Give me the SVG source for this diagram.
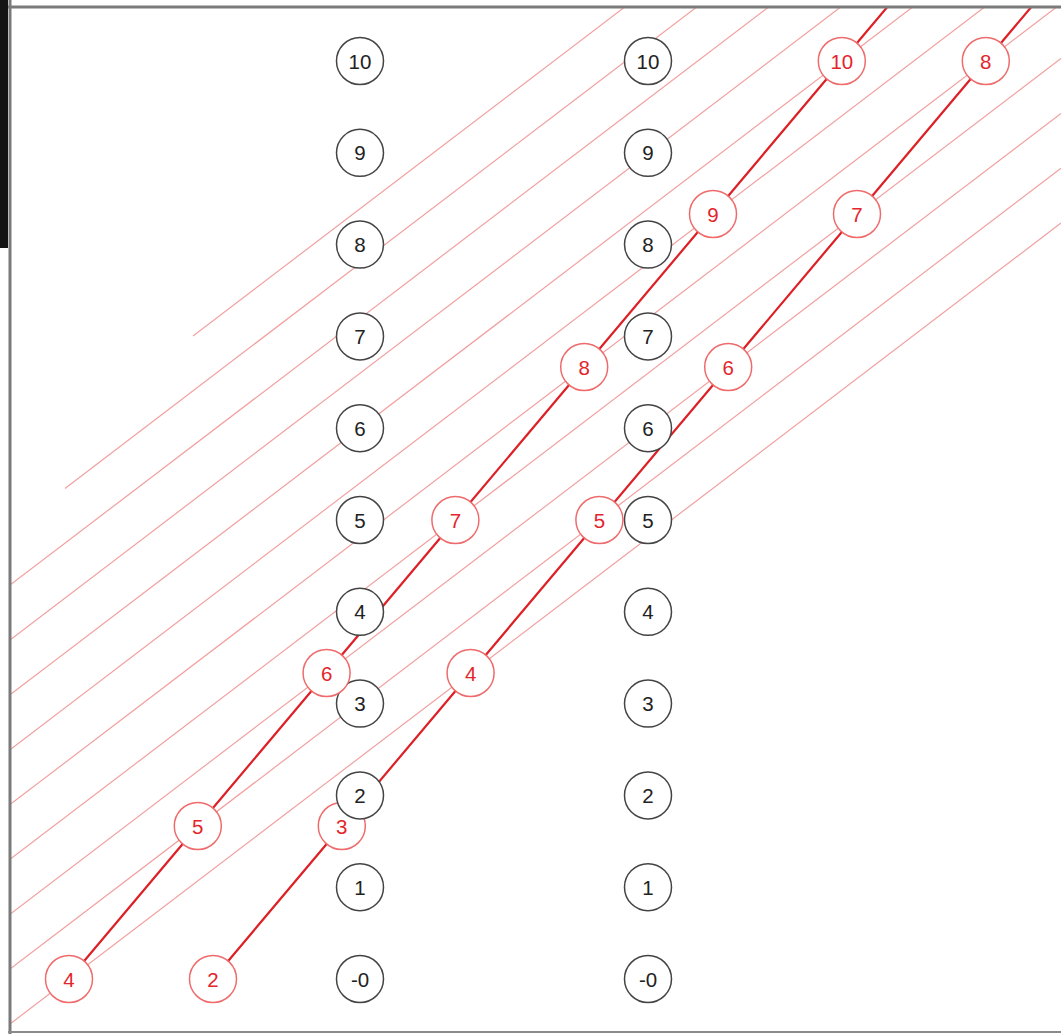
<svg xmlns="http://www.w3.org/2000/svg" width="1061" height="1034" viewBox="0 0 1061 1034">
<style>
.bn circle{fill:#fff;stroke:#444;stroke-width:1.5}
.bn text{fill:#222;font-family:"Liberation Sans",Arial,sans-serif;font-size:20.5px;text-anchor:middle;dominant-baseline:central}
.rn circle{fill:#fff;stroke:#ef6b6b;stroke-width:1.5}
.rn text{fill:#e3262d;font-family:"Liberation Sans",Arial,sans-serif;font-size:20.5px;text-anchor:middle;dominant-baseline:central}
.thin{stroke:#f2a0a0;stroke-width:1.2;fill:none}
.thick{stroke:#dd1f26;stroke-width:2.2;fill:none}
</style>
<defs>
<clipPath id="frame"><rect x="11" y="8" width="1050" height="1023"/></clipPath>
</defs>
<rect x="0" y="0" width="1061" height="1034" fill="#fff"/>
<g id="connectors" clip-path="url(#frame)">
<line class="thin" x1="0" y1="1031.6" x2="1061" y2="223.1"/>
<line class="thin" x1="0" y1="976.7" x2="1061" y2="168.2"/>
<line class="thin" x1="0" y1="921.9" x2="1061" y2="113.4"/>
<line class="thin" x1="0" y1="867" x2="1061" y2="58.5"/>
<line class="thin" x1="0" y1="812.2" x2="1061" y2="3.7"/>
<line class="thin" x1="0" y1="757.3" x2="1061" y2="-51.2"/>
<line class="thin" x1="0" y1="702.5" x2="1061" y2="-106"/>
<line class="thin" x1="0" y1="647.6" x2="1061" y2="-160.9"/>
<line class="thin" x1="0" y1="592.7" x2="1061" y2="-215.8"/>
<line class="thin" x1="65" y1="488.4" x2="1061" y2="-270.6"/>
<line class="thin" x1="193" y1="336" x2="1061" y2="-325.4"/>
<polyline class="thick" points="69,979 197.8,826 326.6,673 455.4,520 584.2,367 713,214 841.8,61 887.3,7 892,1"/>
<polyline class="thick" points="213,979 341.8,826 470.6,673 599.4,520 728.2,367 857,214 985.8,61 1031.3,7 1036,1"/>
</g>
<g id="black-nodes-col1">
<g id="b1-10" class="bn"><circle cx="360" cy="61" r="23.5"/><text x="360" y="61">10</text></g>
<g id="b1-9" class="bn"><circle cx="360" cy="152.8" r="23.5"/><text x="360" y="152.8">9</text></g>
<g id="b1-8" class="bn"><circle cx="360" cy="244.6" r="23.5"/><text x="360" y="244.6">8</text></g>
<g id="b1-7" class="bn"><circle cx="360" cy="336.4" r="23.5"/><text x="360" y="336.4">7</text></g>
<g id="b1-6" class="bn"><circle cx="360" cy="428.2" r="23.5"/><text x="360" y="428.2">6</text></g>
<g id="b1-5" class="bn"><circle cx="360" cy="520" r="23.5"/><text x="360" y="520">5</text></g>
<g id="b1-4" class="bn"><circle cx="360" cy="611.8" r="23.5"/><text x="360" y="611.8">4</text></g>
<g id="b1-3" class="bn"><circle cx="360" cy="703.6" r="23.5"/><text x="360" y="703.6">3</text></g>
</g>
<g id="red-A">
<g id="ra-4" class="rn"><circle cx="69" cy="979" r="23.5"/><text x="69" y="979">4</text></g>
<g id="ra-5" class="rn"><circle cx="197.8" cy="826" r="23.5"/><text x="197.8" y="826">5</text></g>
<g id="ra-6" class="rn"><circle cx="326.6" cy="673" r="23.5"/><text x="326.6" y="673">6</text></g>
<g id="ra-7" class="rn"><circle cx="455.4" cy="520" r="23.5"/><text x="455.4" y="520">7</text></g>
<g id="ra-8" class="rn"><circle cx="584.2" cy="367" r="23.5"/><text x="584.2" y="367">8</text></g>
<g id="ra-9" class="rn"><circle cx="713" cy="214" r="23.5"/><text x="713" y="214">9</text></g>
<g id="ra-10" class="rn"><circle cx="841.8" cy="61" r="23.5"/><text x="841.8" y="61">10</text></g>
</g>
<g id="red-B">
<g id="rb-2" class="rn"><circle cx="213" cy="979" r="23.5"/><text x="213" y="979">2</text></g>
<g id="rb-3" class="rn"><circle cx="341.8" cy="826" r="23.5"/><text x="341.8" y="826">3</text></g>
<g id="rb-4" class="rn"><circle cx="470.6" cy="673" r="23.5"/><text x="470.6" y="673">4</text></g>
<g id="rb-5" class="rn"><circle cx="599.4" cy="520" r="23.5"/><text x="599.4" y="520">5</text></g>
<g id="rb-6" class="rn"><circle cx="728.2" cy="367" r="23.5"/><text x="728.2" y="367">6</text></g>
<g id="rb-7" class="rn"><circle cx="857" cy="214" r="23.5"/><text x="857" y="214">7</text></g>
<g id="rb-8" class="rn"><circle cx="985.8" cy="61" r="23.5"/><text x="985.8" y="61">8</text></g>
</g>
<g id="black-nodes-rest">
<g id="b1-2" class="bn"><circle cx="360" cy="795.4" r="23.5"/><text x="360" y="795.4">2</text></g>
<g id="b1-1" class="bn"><circle cx="360" cy="887.2" r="23.5"/><text x="360" y="887.2">1</text></g>
<g id="b1-0" class="bn"><circle cx="360" cy="979" r="23.5"/><text x="360" y="979">-0</text></g>
<g id="b2-10" class="bn"><circle cx="648" cy="61" r="23.5"/><text x="648" y="61">10</text></g>
<g id="b2-9" class="bn"><circle cx="648" cy="152.8" r="23.5"/><text x="648" y="152.8">9</text></g>
<g id="b2-8" class="bn"><circle cx="648" cy="244.6" r="23.5"/><text x="648" y="244.6">8</text></g>
<g id="b2-7" class="bn"><circle cx="648" cy="336.4" r="23.5"/><text x="648" y="336.4">7</text></g>
<g id="b2-6" class="bn"><circle cx="648" cy="428.2" r="23.5"/><text x="648" y="428.2">6</text></g>
<g id="b2-5" class="bn"><circle cx="648" cy="520" r="23.5"/><text x="648" y="520">5</text></g>
<g id="b2-4" class="bn"><circle cx="648" cy="611.8" r="23.5"/><text x="648" y="611.8">4</text></g>
<g id="b2-3" class="bn"><circle cx="648" cy="703.6" r="23.5"/><text x="648" y="703.6">3</text></g>
<g id="b2-2" class="bn"><circle cx="648" cy="795.4" r="23.5"/><text x="648" y="795.4">2</text></g>
<g id="b2-1" class="bn"><circle cx="648" cy="887.2" r="23.5"/><text x="648" y="887.2">1</text></g>
<g id="b2-0" class="bn"><circle cx="648" cy="979" r="23.5"/><text x="648" y="979">-0</text></g>
</g>
<g id="frame-border">
<rect x="0" y="0" width="8" height="248" fill="#141414"/>
<line x1="10" y1="0" x2="10" y2="1034" stroke="#7a7a7a" stroke-width="3"/>
<line x1="8" y1="7" x2="1061" y2="7" stroke="#7a7a7a" stroke-width="3"/>
<line x1="8" y1="1032" x2="1061" y2="1032" stroke="#8a8a8a" stroke-width="2"/>
</g>
</svg>
